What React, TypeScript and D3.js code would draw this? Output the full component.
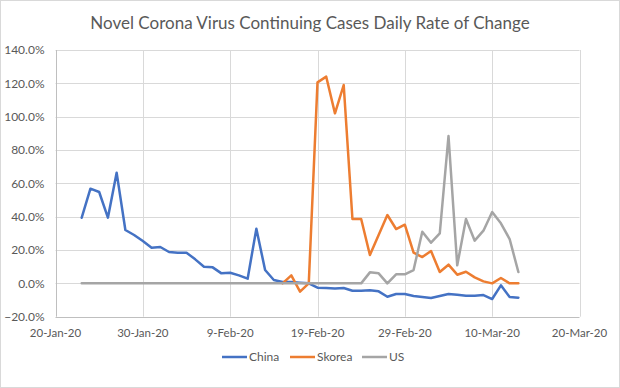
import React from 'react';
import * as d3 from 'd3';

// daily observations, 23-Jan-20 .. 13-Mar-20
const dates = [
  '2020-01-23', '2020-01-24', '2020-01-25', '2020-01-26', '2020-01-27', '2020-01-28', '2020-01-29',
  '2020-01-30', '2020-01-31', '2020-02-01', '2020-02-02', '2020-02-03', '2020-02-04', '2020-02-05',
  '2020-02-06', '2020-02-07', '2020-02-08', '2020-02-09', '2020-02-10', '2020-02-11', '2020-02-12',
  '2020-02-13', '2020-02-14', '2020-02-15', '2020-02-16', '2020-02-17', '2020-02-18', '2020-02-19',
  '2020-02-20', '2020-02-21', '2020-02-22', '2020-02-23', '2020-02-24', '2020-02-25', '2020-02-26',
  '2020-02-27', '2020-02-28', '2020-02-29', '2020-03-01', '2020-03-02', '2020-03-03', '2020-03-04',
  '2020-03-05', '2020-03-06', '2020-03-07', '2020-03-08', '2020-03-09', '2020-03-10', '2020-03-11',
  '2020-03-12', '2020-03-13',
];

const china = [
  39.4, 56.8, 54.8, 39.4, 66.4, 32, 29, 25.4, 21.4,
  21.8, 18.8, 18.4, 18.4, 14.4, 10, 9.6, 6, 6.4, 4.8, 2.8, 32.8, 8, 2, 0.8, 0.8, 0.4, 0,
  -2.6, -2.8, -3.1, -2.8, -4.4, -4.4, -4.2, -4.8, -8, -6.4, -6.4,
  -7.6, -8.2, -8.8, -7.6, -6.4, -6.8, -7.4, -7.4, -7, -9.4, -1.2, -8.2, -8.6,
];

const skorea = [
  null, null, null, null, null, null, null, null, null,
  null, null, null, null, null, null, null, null, null, null, null, null, null, null,
  0, 4.8, -5, 0, 120.6, 124, 102, 119, 38.6, 38.6, 17, 29, 41, 32.6, 35.2,
  18.4, 15.8, 19.4, 6.8, 11.2, 5.2, 7, 3.6, 1.2, 0, 3.2, 0, 0,
];

const us = [
  0, 0, 0, 0, 0, 0, 0, 0, 0,
  0, 0, 0, 0, 0, 0, 0, 0, 0, 0, 0, 0, 0, 0, 0, 0, 0, 0, 0, 0, 0, 0, 0, 0,
  6.6, 6, 0, 5.4, 5.4,
  8, 31, 24.4, 30, 88.4, 10.8, 38.6, 25.6, 31.6, 42.8, 36, 26.6, 6.8,
];

const seriesNames = ['China', 'Skorea', 'US'];
const seriesColors = ['#4472C4', '#ED7D31', '#A5A5A5'];
const xTickDates = ['2020-01-20', '2020-01-30', '2020-02-09', '2020-02-19', '2020-02-29', '2020-03-10', '2020-03-20'];
const yTickValues = [-20, 0, 20, 40, 60, 80, 100, 120, 140];

const W = 620;
const H = 388;
const FONT = 'Lato, "Open Sans", sans-serif';

export default function App() {
  const parse = d3.timeParse('%Y-%m-%d');
  const fmtDate = d3.timeFormat('%-d-%b-%y');
  const fmtPct = (v: number) => d3.format('.1f')(v) + '%';

  const plot = { left: 55.5, right: 579.5, top: 50, bottom: 316.7 };
  const x = d3.scaleTime()
    .domain([parse(xTickDates[0])!, parse(xTickDates[xTickDates.length - 1])!])
    .range([plot.left, plot.right]);
  const y = d3.scaleLinear().domain([-20, 140]).range([plot.bottom, plot.top]);

  const days = dates.map(d => parse(d)!);
  const allSeries = [china, skorea, us];

  const line = d3.line<[Date, number | null]>()
    .defined(d => d[1] != null)
    .x(d => x(d[0]))
    .y(d => y(d[1] as number));

  // legend placement
  const legendY = 357;
  const legendItems = [
    { lx: 222, tx: 249 },
    { lx: 290, tx: 317 },
    { lx: 362, tx: 389 },
  ];

  return (
    <svg width={W} height={H} style={{ position: 'absolute', left: 0, top: 0, background: '#fff' }}
      fontFamily={FONT}>
      <rect x={0.5} y={0.5} width={W - 1} height={H - 1} fill="#fff" stroke="#D9D9D9" />

      <text x={310} y={29} textAnchor="middle" fontSize={17} fill="#595959">
        Novel Corona Virus Continuing Cases Daily Rate of Change
      </text>

      {/* horizontal gridlines */}
      {yTickValues.filter(v => v !== -20).map(v => (
        <line key={'h' + v} x1={plot.left} x2={plot.right} y1={Math.round(y(v)) + 0.5} y2={Math.round(y(v)) + 0.5}
          stroke="#D9D9D9" strokeWidth={1} />
      ))}
      {/* vertical gridlines */}
      {xTickDates.slice(1).map(d => {
        const px = Math.round(x(parse(d)!)) + 0.5;
        return <line key={'v' + d} x1={px} x2={px} y1={plot.top} y2={plot.bottom} stroke="#D9D9D9" strokeWidth={1} />;
      })}
      {/* axis lines */}
      <line x1={Math.round(plot.left) + 0.5} x2={Math.round(plot.left) + 0.5} y1={plot.top} y2={plot.bottom}
        stroke="#BFBFBF" strokeWidth={1} />
      <line x1={plot.left} x2={plot.right} y1={Math.round(plot.bottom) + 0.5} y2={Math.round(plot.bottom) + 0.5}
        stroke="#BFBFBF" strokeWidth={1} />

      {/* y tick labels */}
      {yTickValues.map(v => (
        <text key={'yl' + v} x={44.5} y={y(v)} dy="0.35em" textAnchor="end" fontSize={12} fill="#595959">
          {fmtPct(v)}
        </text>
      ))}
      {/* x tick labels */}
      {xTickDates.map(d => (
        <text key={'xl' + d} x={x(parse(d)!)} y={337} textAnchor="middle" fontSize={11.5} fill="#595959">
          {fmtDate(parse(d)!)}
        </text>
      ))}

      {/* series */}
      {allSeries.map((vals, i) => (
        <path key={seriesNames[i]}
          d={line(days.map((d, j) => [d, vals[j]] as [Date, number | null])) || ''}
          fill="none" stroke={seriesColors[i]} strokeWidth={2.5}
          strokeLinejoin="round" strokeLinecap="round" />
      ))}

      {/* legend */}
      {seriesNames.map((name, i) => (
        <g key={'lg' + name}>
          <line x1={legendItems[i].lx} x2={legendItems[i].lx + 25} y1={legendY} y2={legendY}
            stroke={seriesColors[i]} strokeWidth={2.5} />
          <text x={legendItems[i].tx} y={legendY} dy="0.35em" fontSize={12} fill="#595959">{name}</text>
        </g>
      ))}
    </svg>
  );
}
